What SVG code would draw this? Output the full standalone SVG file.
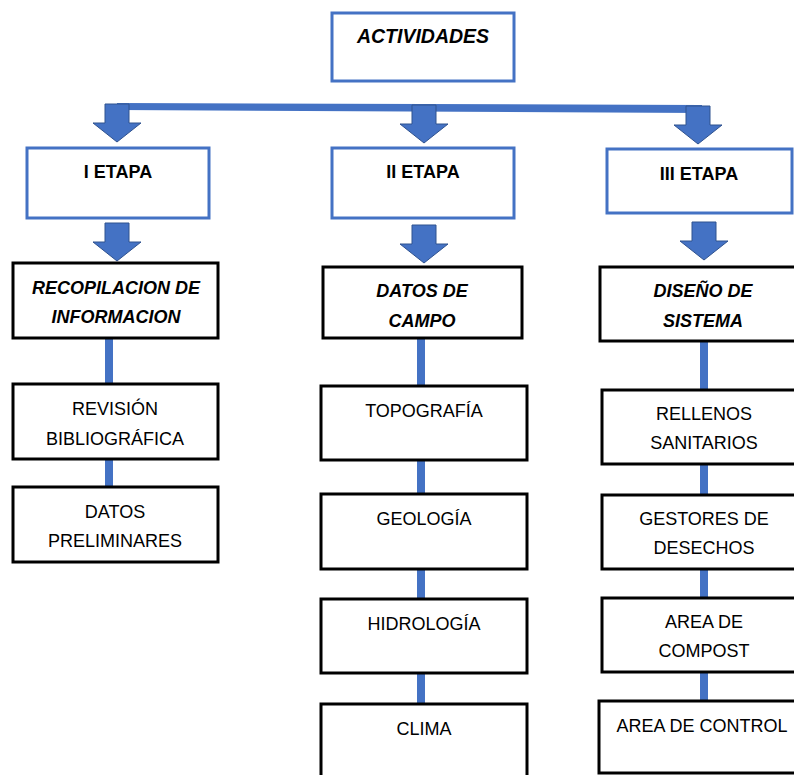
<svg xmlns="http://www.w3.org/2000/svg" width="794" height="775" viewBox="0 0 794 775">
<style>
.bb{fill:#fff;stroke:#4472C4;stroke-width:3}
.kb{fill:#fff;stroke:#000;stroke-width:3}
.t{font-family:"Liberation Sans",Arial,sans-serif;font-size:18px;fill:#000;text-anchor:middle}
.b{font-weight:bold}
.bi{font-weight:bold;font-style:italic}
.ln{fill:#4472C4}
.ar{fill:#4472C4;stroke:#2F528F;stroke-width:1}
</style>
<defs>
<path id="arrow" d="M-12,-38 H12 V-19 H24 L0,0 L-24,-19 H-12 Z"/>
</defs>
<g id="connectors">
<polygon class="ln" points="117,103 702,105 702,113 117,110"/>
<use href="#arrow" class="ar" transform="translate(117,142)"/>
<use href="#arrow" class="ar" transform="translate(424,143)"/>
<use href="#arrow" class="ar" transform="translate(698,144)"/>
<use href="#arrow" class="ar" transform="translate(117,261)"/>
<use href="#arrow" class="ar" transform="translate(424,263)"/>
<use href="#arrow" class="ar" transform="translate(704,260)"/>
<rect class="ln" x="105" y="338" width="8" height="46"/>
<rect class="ln" x="105" y="459" width="8" height="28"/>
<rect class="ln" x="417" y="338" width="8" height="48"/>
<rect class="ln" x="417" y="460" width="8" height="34"/>
<rect class="ln" x="417" y="569" width="8" height="30"/>
<rect class="ln" x="417" y="673" width="8" height="31"/>
<rect class="ln" x="700" y="341" width="8" height="49"/>
<rect class="ln" x="700" y="464" width="8" height="31"/>
<rect class="ln" x="700" y="569" width="8" height="29"/>
<rect class="ln" x="700" y="672" width="8" height="29"/>
</g>
<g id="actividades"><rect class="bb" x="332" y="13" width="182" height="68"/><text class="t bi" x="423" y="43" style="font-size:19.5px">ACTIVIDADES</text></g>
<g id="etapa1"><rect class="bb" x="27" y="148" width="182" height="70"/><text class="t b" x="118" y="178">I ETAPA</text></g>
<g id="etapa2"><rect class="bb" x="332" y="148" width="182" height="70"/><text class="t b" x="423" y="178">II ETAPA</text></g>
<g id="etapa3"><rect class="bb" x="607" y="149" width="185" height="64"/><text class="t b" x="699" y="180">III ETAPA</text></g>
<g id="recopilacion"><rect class="kb" x="13" y="263" width="205" height="75"/><text class="t bi" x="116" y="294">RECOPILACION DE</text><text class="t bi" x="116" y="323">INFORMACION</text></g>
<g id="datos-campo"><rect class="kb" x="323" y="267" width="199" height="71"/><text class="t bi" x="422" y="297">DATOS DE</text><text class="t bi" x="422" y="327">CAMPO</text></g>
<g id="diseno"><rect class="kb" x="600" y="267" width="205" height="74"/><text class="t bi" x="703" y="297">DISEÑO DE</text><text class="t bi" x="703" y="327">SISTEMA</text></g>
<g id="revision"><rect class="kb" x="13" y="384" width="205" height="75"/><text class="t" x="115" y="415">REVISIÓN</text><text class="t" x="115" y="445">BIBLIOGRÁFICA</text></g>
<g id="preliminares"><rect class="kb" x="13" y="487" width="205" height="75"/><text class="t" x="115" y="518">DATOS</text><text class="t" x="115" y="547">PRELIMINARES</text></g>
<g id="topografia"><rect class="kb" x="321" y="386" width="206" height="74"/><text class="t" x="424" y="417">TOPOGRAFÍA</text></g>
<g id="geologia"><rect class="kb" x="321" y="494" width="206" height="75"/><text class="t" x="424" y="525">GEOLOGÍA</text></g>
<g id="hidrologia"><rect class="kb" x="321" y="599" width="206" height="74"/><text class="t" x="424" y="630">HIDROLOGÍA</text></g>
<g id="clima"><rect class="kb" x="321" y="704" width="206" height="80"/><text class="t" x="424" y="735">CLIMA</text></g>
<g id="rellenos"><rect class="kb" x="602" y="390" width="205" height="74"/><text class="t" x="704" y="420">RELLENOS</text><text class="t" x="704" y="449">SANITARIOS</text></g>
<g id="gestores"><rect class="kb" x="602" y="495" width="205" height="74"/><text class="t" x="704" y="525">GESTORES DE</text><text class="t" x="704" y="554">DESECHOS</text></g>
<g id="compost"><rect class="kb" x="602" y="598" width="205" height="74"/><text class="t" x="704" y="628">AREA DE</text><text class="t" x="704" y="657">COMPOST</text></g>
<g id="control"><rect class="kb" x="599" y="701" width="205" height="72"/><text class="t" x="702" y="732">AREA DE CONTROL</text></g>
</svg>
